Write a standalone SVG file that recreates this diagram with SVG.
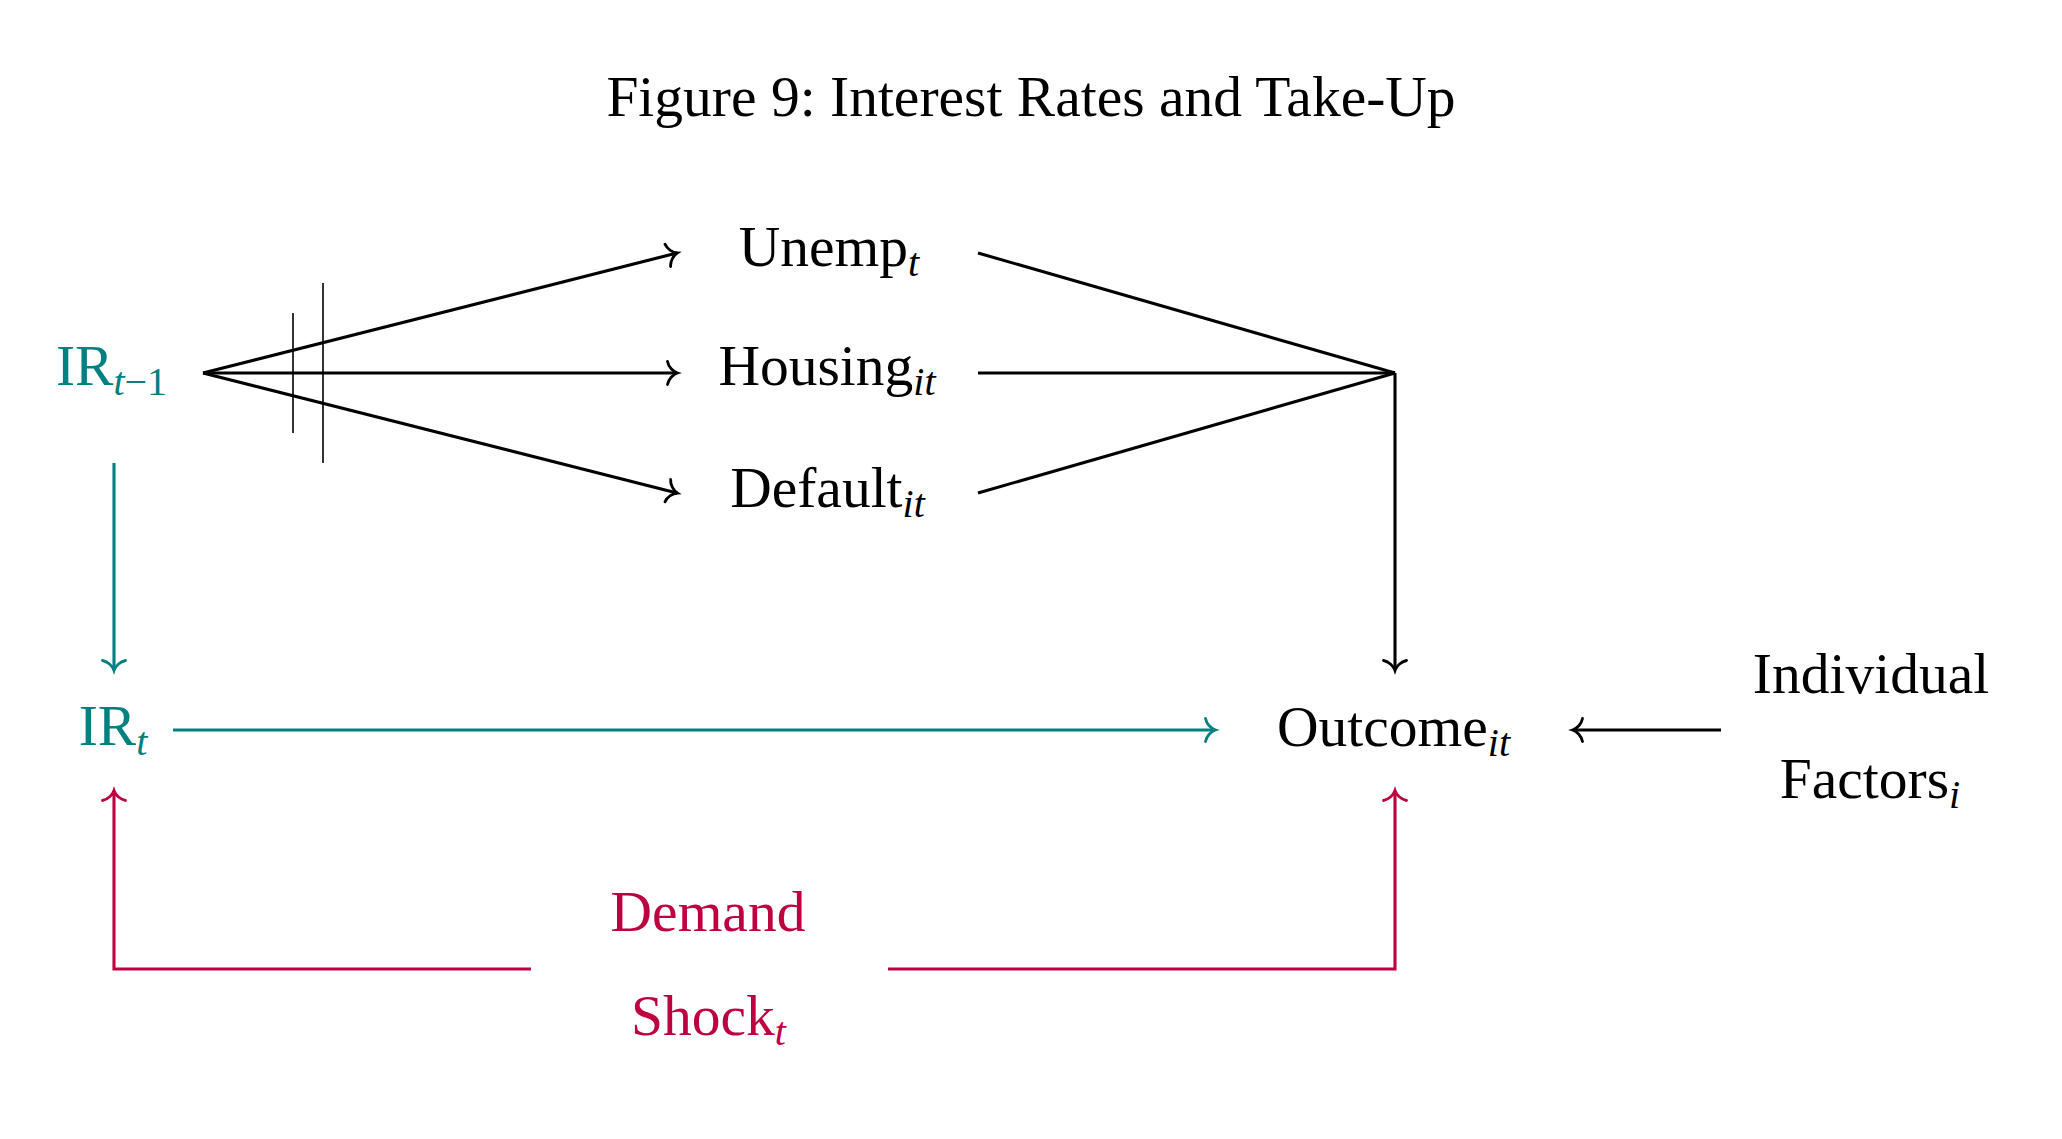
<svg xmlns="http://www.w3.org/2000/svg" width="2062" height="1139" viewBox="0 0 2062 1139">
<defs>
<style>
text{font-family:"Liberation Serif","Times New Roman",serif;font-size:57.5px;text-anchor:middle}
.sub{font-size:40px;font-style:italic}
.subu{font-size:40px}
.blk{fill:#000}
.teal{fill:#008080}
.pur{fill:#BF0040}
.ln{fill:none;stroke-width:3.1;stroke-linejoin:miter}
.lk{stroke:#000}
.lt{stroke:#008080}
.lp{stroke:#BF0040}
.tick{fill:none;stroke:#000;stroke-width:1.6}
</style>
<marker id="ak" markerUnits="userSpaceOnUse" viewBox="-15 -15 30 30" markerWidth="30" markerHeight="30" refX="0" refY="0" orient="auto" overflow="visible">
<path d="M -9.5 -11.5 C -8.5 -6 -4 -1.5 0.5 0 C -4 1.5 -8.5 6 -9.5 11.5" fill="none" stroke="#000" stroke-width="2.8" stroke-linecap="round"/>
</marker>
<marker id="at" markerUnits="userSpaceOnUse" viewBox="-15 -15 30 30" markerWidth="30" markerHeight="30" refX="0" refY="0" orient="auto" overflow="visible">
<path d="M -9.5 -11.5 C -8.5 -6 -4 -1.5 0.5 0 C -4 1.5 -8.5 6 -9.5 11.5" fill="none" stroke="#008080" stroke-width="2.8" stroke-linecap="round"/>
</marker>
<marker id="ap" markerUnits="userSpaceOnUse" viewBox="-15 -15 30 30" markerWidth="30" markerHeight="30" refX="0" refY="0" orient="auto" overflow="visible">
<path d="M -9.5 -11.5 C -8.5 -6 -4 -1.5 0.5 0 C -4 1.5 -8.5 6 -9.5 11.5" fill="none" stroke="#BF0040" stroke-width="2.8" stroke-linecap="round"/>
</marker>
</defs>
<rect width="2062" height="1139" fill="#fff"/>
<text id="title" class="blk" x="1031" y="116">Figure 9: Interest Rates and Take-Up</text>

<g id="connectors">
<line class="ln lk" x1="203" y1="373" x2="677" y2="253" marker-end="url(#ak)"/>
<line class="ln lk" x1="203" y1="373" x2="677" y2="373" marker-end="url(#ak)"/>
<line class="ln lk" x1="203" y1="373" x2="677" y2="493" marker-end="url(#ak)"/>
<line class="tick" x1="293" y1="313" x2="293" y2="433"/>
<line class="tick" x1="323" y1="283" x2="323" y2="463"/>
<line class="ln lk" x1="978" y1="253" x2="1395" y2="373"/>
<line class="ln lk" x1="978" y1="373" x2="1395" y2="373"/>
<line class="ln lk" x1="978" y1="493" x2="1395" y2="373"/>
<line class="ln lk" x1="1395" y1="373" x2="1395" y2="670" marker-end="url(#ak)"/>
<line class="ln lt" x1="114" y1="463" x2="114" y2="670" marker-end="url(#at)"/>
<line class="ln lt" x1="173" y1="730" x2="1215" y2="730" marker-end="url(#at)"/>
<line class="ln lk" x1="1721" y1="730" x2="1573" y2="730" marker-end="url(#ak)"/>
<path class="ln lp" d="M 531 969 H 114 V 791" marker-end="url(#ap)"/>
<path class="ln lp" d="M 888 969 H 1395 V 791" marker-end="url(#ap)"/>
</g>

<g id="ir_lag"><text class="teal" x="111.5" y="385">IR<tspan class="sub" dy="10">t</tspan><tspan class="subu">−1</tspan></text></g>
<g id="unemp"><text class="blk" x="829" y="266">Unemp<tspan class="sub" dy="10">t</tspan></text></g>
<g id="housing"><text class="blk" x="827" y="385">Housing<tspan class="sub" dy="10">it</tspan></text></g>
<g id="default"><text class="blk" x="827.5" y="507">Default<tspan class="sub" dy="10">it</tspan></text></g>
<g id="ir_t"><text class="teal" x="113" y="745">IR<tspan class="sub" dy="10">t</tspan></text></g>
<g id="outcome"><text class="blk" x="1393.5" y="746">Outcome<tspan class="sub" dy="10">it</tspan></text></g>
<g id="individual">
<text class="blk" x="1871" y="693">Individual</text>
<text class="blk" x="1870" y="798">Factors<tspan class="sub" dy="10">i</tspan></text>
</g>
<g id="demand">
<text class="pur" x="708" y="931">Demand</text>
<text class="pur" x="708.5" y="1035">Shock<tspan class="sub" dy="10">t</tspan></text>
</g>
</svg>
